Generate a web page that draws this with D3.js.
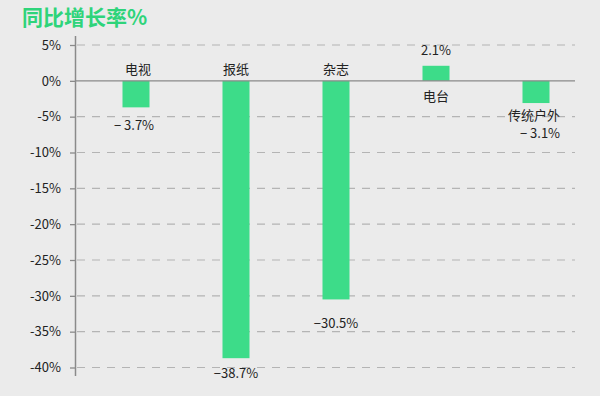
<!DOCTYPE html>
<html><head><meta charset="utf-8">
<script src="https://cdn.jsdelivr.net/npm/d3@7"></script>
<style>html,body{margin:0;padding:0;background:#ebebeb;}svg{display:block;}</style>
</head><body>
<svg id="c" width="600" height="396"></svg>
<script>
const categories = ["电视", "报纸", "杂志", "电台", "传统户外"];
const values = [-3.7, -38.7, -30.5, 2.1, -3.1];
const valueLabels = ["− 3.7%", "−38.7%", "−30.5%", "2.1%", "− 3.1%"];
const yTicks = [5, 0, -5, -10, -15, -20, -25, -30, -35, -40];

const svg = d3.select("#c");
const font = "'Noto Sans CJK SC','Noto Sans',sans-serif";
svg.append("rect").attr("width", 600).attr("height", 396).attr("fill", "#ebebeb");

const x = d3.scaleBand().domain(categories).range([86, 586]).paddingInner(0.73).paddingOuter(0.365);
const y = d3.scaleLinear().domain([-40, 5]).range([367.5, 45]);

// title
svg.append("text").attr("x", 22).attr("y", 25).attr("font-family", font).attr("font-weight", "bold")
  .attr("font-size", 21).attr("fill", "#2ed47a").text("同比增长率%");

// gridlines
svg.append("g").selectAll("line").data(yTicks.filter(d => d !== 0)).join("line")
  .attr("x1", 77).attr("x2", 575).attr("y1", d => y(d)).attr("y2", d => y(d))
  .attr("stroke", "#b4b4b4").attr("stroke-width", 1.2).attr("stroke-dasharray", "8,7");

// y axis
const yAxis = d3.axisLeft(y).tickValues(yTicks).tickFormat(d => d + "%").tickSize(5).tickPadding(9);
const ga = svg.append("g").attr("transform", "translate(75,0)").call(yAxis);
ga.select(".domain").remove();
ga.selectAll(".tick line").attr("stroke", "#8a8a8a").attr("stroke-width", 1.3);
ga.selectAll(".tick text").attr("font-family", font).attr("font-size", 13).attr("fill", "#222");
svg.append("line").attr("x1", 75.5).attr("x2", 75.5).attr("y1", 36).attr("y2", 376)
  .attr("stroke", "#8a8a8a").attr("stroke-width", 1.5);

// bars
svg.append("g").selectAll("rect").data(values).join("rect")
  .attr("x", (d, i) => x(categories[i]))
  .attr("width", x.bandwidth())
  .attr("y", d => y(Math.max(0, d)))
  .attr("height", d => Math.abs(y(d) - y(0)))
  .attr("fill", "#3ddc89");

// zero line
svg.append("line").attr("x1", 75).attr("x2", 575).attr("y1", y(0)).attr("y2", y(0))
  .attr("stroke", "#8a8a8a").attr("stroke-width", 1.3);

// category labels
const catY = [74, 74, 74, 101, 120];
const catDx = [2, 0, 0, 0, -2];
svg.append("g").selectAll("text").data(categories).join("text")
  .attr("x", (d, i) => x(d) + x.bandwidth() / 2 + catDx[i])
  .attr("y", (d, i) => catY[i])
  .attr("text-anchor", "middle").attr("font-family", font).attr("font-size", 13).attr("fill", "#222")
  .text(d => d);

// value labels
const valY = [130, 378, 328, 55, 138];
const valDx = [-2, 0, 0, 0, 4];
svg.append("g").selectAll("text").data(valueLabels).join("text")
  .attr("x", (d, i) => x(categories[i]) + x.bandwidth() / 2 + valDx[i])
  .attr("y", (d, i) => valY[i])
  .attr("text-anchor", "middle").attr("font-family", font).attr("font-size", 13).attr("fill", "#222")
  .text(d => d);
</script>
</body></html>
